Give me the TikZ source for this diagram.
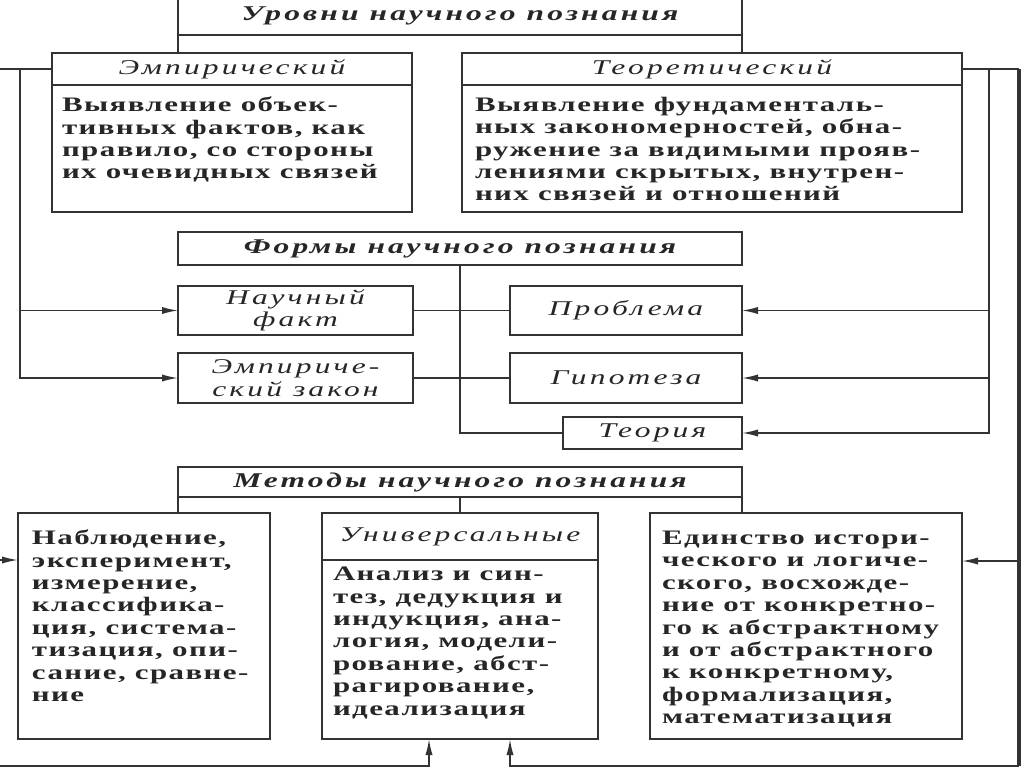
\documentclass[tikz,border=0pt]{standalone}
\usepackage{fontspec}
\setmainfont{Liberation Serif}
\newfontfamily\bodyfont{Liberation Serif}[FakeStretch=1.5,LetterSpace=7]
\newfontfamily\headfont{Liberation Serif}[FakeStretch=1.5,LetterSpace=15]
\usetikzlibrary{arrows.meta}

\begin{document}
\begin{tikzpicture}[x=0.5pt, y=-0.5pt,
    every node/.style = {inner sep=0pt, outer sep=0pt, text=black!85},
    framen/.style     = {draw=black!80, line width=1.1pt},
    titlen/.style     = {framen, font=\headfont\bfseries\itshape\fontsize{10.5}{11.2}\selectfont},
    headn/.style      = {framen, align=center,
                         font=\headfont\itshape\fontsize{10.5}{11.2}\selectfont},
    bodyn/.style      = {anchor=north west, align=left,
                         font=\bodyfont\bfseries\fontsize{10.3}{11.2}\selectfont},
    linkn/.style      = {draw=black!80, line width=0.8pt},
    arrown/.style     = {linkn, -{Latex[length=8pt,width=3.6pt]}},
    railn/.style      = {draw=black!80, line width=1.8pt}]

    \useasboundingbox (0,0) rectangle (1024,767);
    \clip (0,0) rectangle (1024,767);

    % Levels
    \node[titlen, minimum width=282pt, minimum height=19pt] (levels) at (460,16) {Уровни научного познания};
    \node[framen, minimum width=180pt, minimum height=79.5pt] (emp)  at (232,132.5) {};
    \node[headn,  minimum width=180pt, minimum height=16pt]   (empHead)  at (232,69) {Эмпирический};
    \node[bodyn] (empText) at (62,97) {Выявление объек-\\тивных фактов, как\\правило, со стороны\\их очевидных связей};
    \node[framen, minimum width=250pt, minimum height=79.5pt] (teor) at (712,132.5) {};
    \node[headn,  minimum width=250pt, minimum height=16pt]   (teorHead) at (712,69) {Теоретический};
    \node[bodyn] (teorText) at (475,97) {Выявление фундаменталь-\\ных закономерностей, обна-\\ружение за видимыми прояв-\\лениями скрытых, внутрен-\\них связей и отношений};

    % Forms
    \node[titlen, minimum width=282pt, minimum height=16.5pt] (forms) at (460,248.5) {Формы научного познания};
    \node[headn, minimum width=117.5pt, minimum height=24.5pt] (fact)    at (295.5,310.5) {Научный\\факт};
    \node[headn, minimum width=117.5pt, minimum height=25pt]   (law)     at (295.5,378) {Эмпириче-\\ский закон};
    \node[headn, minimum width=116pt,   minimum height=24.5pt] (problem) at (626,310.5) {Проблема};
    \node[headn, minimum width=116pt,   minimum height=25pt]   (hypo)    at (626,378) {Гипотеза};
    \node[headn, minimum width=89.5pt,  minimum height=16pt]   (theory)  at (652.5,433) {Теория};

    % Methods
    \node[titlen, minimum width=282pt, minimum height=15pt] (methods) at (460,482) {Методы научного познания};
    \node[framen, minimum width=126pt, minimum height=113pt] (observe) at (144,626) {};
    \node[bodyn] (observeText) at (32,530) {Наблюдение,\\эксперимент,\\измерение,\\классифика-\\ция, система-\\тизация, опи-\\сание, сравне-\\ние};
    \node[framen, minimum width=138pt, minimum height=113pt] (univ) at (460,626) {};
    \node[headn,  minimum width=138pt, minimum height=23.5pt] (univHead) at (460,536.5) {Универсальные};
    \node[bodyn] (univText) at (333,567) {Анализ и син-\\тез, дедукция и\\индукция, ана-\\логия, модели-\\рование, абст-\\рагирование,\\идеализация};
    \node[framen, minimum width=156pt, minimum height=113pt] (unity) at (806,626) {};
    \node[bodyn] (unityText) at (662,531) {Единство истори-\\ческого и логиче-\\ского, восхожде-\\ние от конкретно-\\го к абстрактному\\и от абстрактного\\к конкретному,\\формализация,\\математизация};

    % Free ends
    \coordinate (leftTop)   at (0,69);
    \coordinate (leftBus)   at (20,69);
    \coordinate (leftLow)   at (0,560);
    \coordinate (rightBus)  at (989,69);
    \coordinate (rightRail) at (1019,69);
    \coordinate (unityTap)  at (1019,561);
    \coordinate (botLeft)   at (0,766);
    \coordinate (botRight)  at (1019,766);
    \coordinate (inA)       at (429,766);
    \coordinate (inB)       at (510,766);

    % Links
    \draw[linkn] (levels.south west) -- (levels.south west |- emp.north);
    \draw[linkn] (levels.south east) -- (levels.south east |- teor.north);
    \draw[linkn] (leftTop) -- (empHead.west);
    \draw[linkn] (teorHead.east) -- (rightRail);
    \draw[arrown] (leftBus) |- (fact.west);
    \draw[arrown] (leftBus) |- (law.west);
    \draw[linkn] (fact) -- (problem);
    \draw[linkn] (law) -- (hypo);
    \draw[linkn] (forms.south) |- (theory.west);
    \draw[arrown] (rightBus) |- (problem.east);
    \draw[arrown] (rightBus) |- (hypo.east);
    \draw[arrown] (rightBus) |- (theory.east);
    \draw[railn] (rightRail) -- (botRight);

    \draw[linkn] (methods.south west) -- (methods.south west |- observe.north);
    \draw[linkn] (methods.south) -- (univ.north);
    \draw[linkn] (methods.south east) -- (methods.south east |- unity.north);
    \draw[arrown] (leftLow) -- (leftLow -| observe.west);
    \draw[arrown] (unityTap) -- (unityTap -| unity.east);
    \draw[arrown] (botLeft) -- (inA) -- (inA |- univ.south);
    \draw[arrown] (botRight) -- (inB) -- (inB |- univ.south);
\end{tikzpicture}
\end{document}
